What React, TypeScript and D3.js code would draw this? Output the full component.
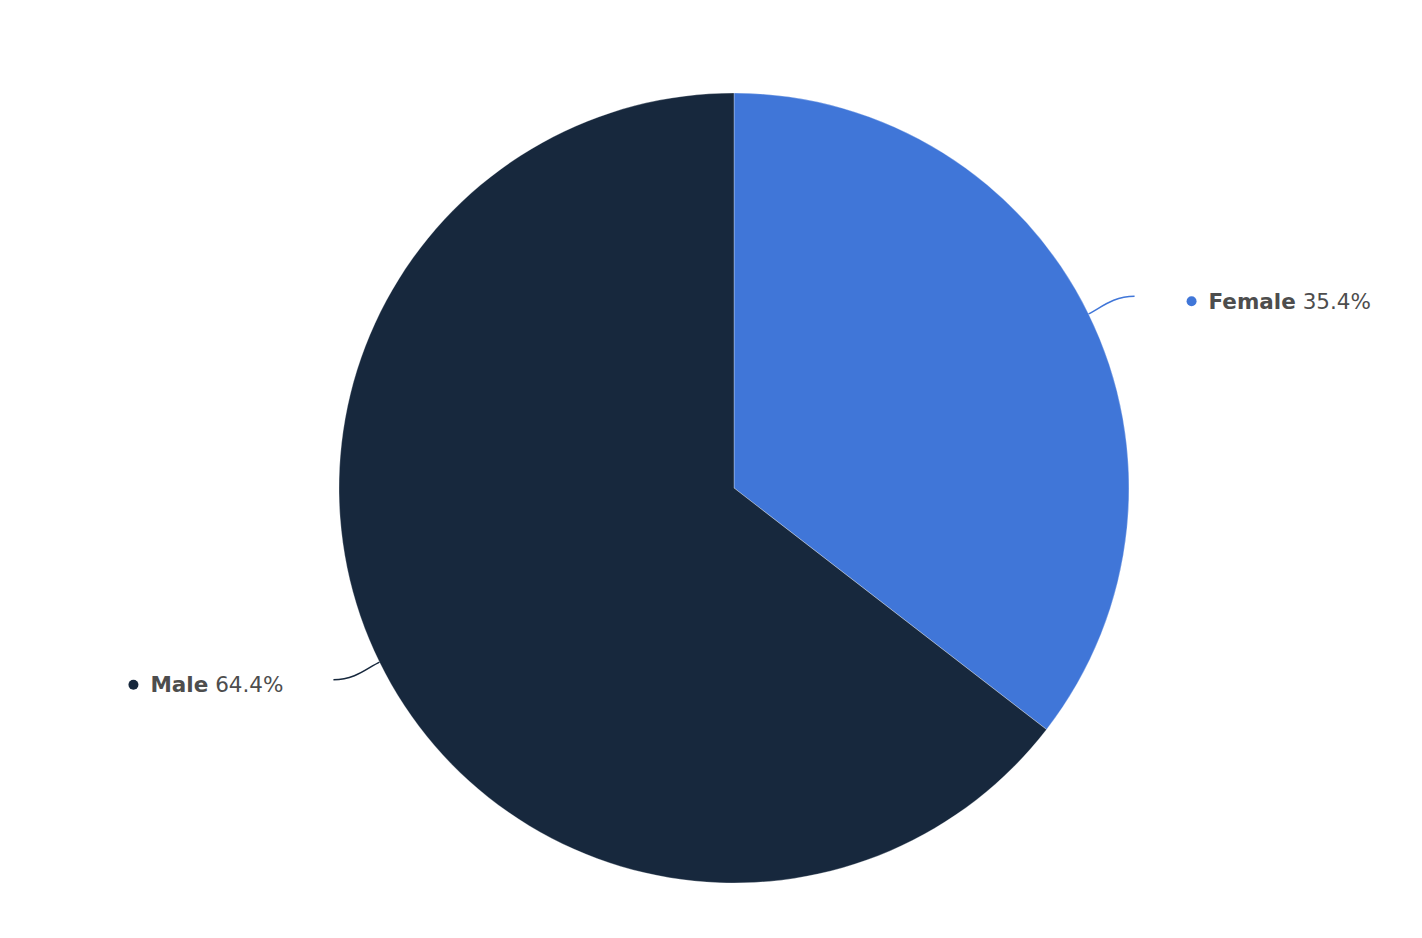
import React from "react"
import * as d3 from "d3"

// Share by gender
const categories = ["Female", "Male"]
const shares = [35.4, 64.4]
const colors = ["#4076d8", "#17283d"]

const width = 1422
const height = 938
const cx = 734
const cy = 488
const radius = 395

export default function App() {
    const pie = d3
        .pie<number>()
        .sort(null)
        .value((d) => d)
    const arcs = pie(shares)
    const arc = d3.arc<d3.PieArcDatum<number>>().innerRadius(0).outerRadius(radius)

    return (
        <svg
            width={width}
            height={height}
            style={{ position: "absolute", left: 0, top: 0, background: "#fff" }}
            fontFamily="'DejaVu Sans', Verdana, sans-serif"
        >
            <g transform={`translate(${cx},${cy})`}>
                {arcs.map((a, i) => (
                    <path key={categories[i]} d={arc(a) ?? ""} fill={colors[i]} stroke="#fff" strokeWidth={0.3} />
                ))}
                {arcs.map((a, i) => {
                    const mid = (a.startAngle + a.endAngle) / 2
                    const dx = Math.sin(mid)
                    const dy = -Math.cos(mid)
                    const sx = dx * radius
                    const sy = dy * radius
                    const right = dx > 0
                    const ex = sx + (right ? 46 : -46)
                    const ey = sy + dy * 40
                    const c1x = sx + dx * 14
                    const c1y = sy + dy * 14
                    const c2x = ex + (right ? -22 : 22)
                    const c2y = ey
                    const ly = ey + 5
                    const dotX = right ? ex + 57 : ex - 200
                    return (
                        <g key={"lbl" + i}>
                            <path
                                d={`M${sx},${sy}C${c1x},${c1y} ${c2x},${c2y} ${ex},${ey}`}
                                fill="none"
                                stroke={colors[i]}
                                strokeWidth={1.5}
                            />
                            <circle cx={dotX} cy={ly} r={5} fill={colors[i]} />
                            <text x={dotX + 17} y={ly} dy="0.35em" fontSize={21.5} fill="#4d4d4d">
                                <tspan fontWeight="bold">{categories[i]}</tspan>
                                <tspan> {shares[i].toFixed(1)}%</tspan>
                            </text>
                        </g>
                    )
                })}
            </g>
        </svg>
    )
}
